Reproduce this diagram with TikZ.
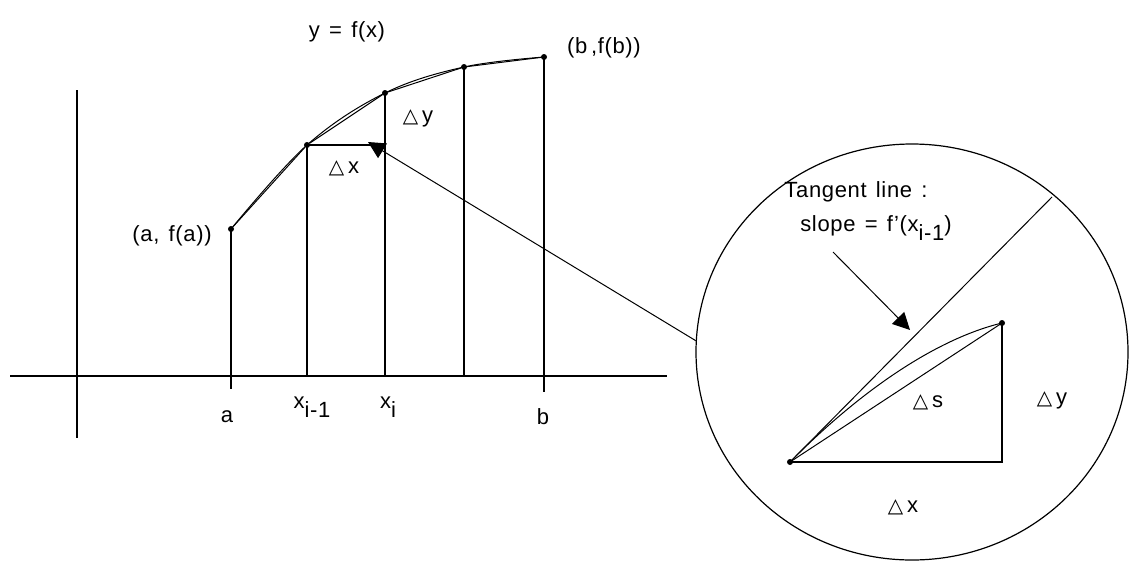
\documentclass[tikz,border=0pt]{standalone}
\usepackage{fontspec}
\setmainfont[LetterSpace=3]{Liberation Sans}
\newfontfamily\trifont{DejaVu Sans}
\usetikzlibrary{positioning,arrows.meta,shapes.geometric}
\newcommand{\tri}{{\trifont\fontsize{20}{20}\selectfont △}\,}
\newcommand{\lowsub}[1]{\raisebox{-0.4em}{#1}}
\newcommand{\lblfont}{\fontsize{22}{26}\selectfont\spaceskip=0.42em\relax}
\tikzset{
  dot/.style={circle,fill=black,inner sep=0pt,minimum size=6pt},
  lbl/.style={font=\lblfont,inner sep=1pt},
  axisline/.style={line width=1.7pt},
  thinline/.style={line width=1pt},
  bighead/.style={-{Triangle[width=17pt,length=17pt]}},
}

\begin{document}
\begin{tikzpicture}[x=1pt,y=-1pt]
        \useasboundingbox (0,0) rectangle (1129,563);
        % axes
        \coordinate (xl) at (10,376);
        \coordinate (xr) at (667,376);
        \coordinate (yt) at (77,90);
        \coordinate (yb) at (77,438);
        \draw[axisline] (xl) -- (xr);
        \draw[axisline] (yt) -- (yb);
        % points on the curve
        \node[dot] (p0) at (231,229) {};
        \node[dot] (p1) at (307,145) {};
        \node[dot] (p2) at (385,93) {};
        \node[dot] (p3) at (464,67) {};
        \node[dot] (p4) at (544,57) {};
        \draw[thinline] plot[smooth,tension=0.6] coordinates {(231,229) (307,145) (385,93) (464,67) (544,57)};
        \draw[thinline] (p0) -- (p1) -- (p2) -- (p3) -- (p4);
        % verticals
        \draw[axisline] (p0.center) -- (231,389);
        \draw[axisline] (p1.center) -- (307,376);
        \draw[axisline] (p2.center) -- (385,376);
        \draw[axisline] (p3.center) -- (464,376);
        \draw[axisline] (p4.center) -- (544,392);
        \draw[axisline] (p1.center) -- (385,145);
        % labels
        \node[lbl] (fx) at (347,32) {y = f(x)};
        \node[lbl] (fa) at (172,236) {(a, f(a))};
        \node[lbl] (fb) at (604,48) {(b\,,f(b))};
        \node[lbl] (la) at (227,417) {a};
        \node[lbl] (lb) at (543,417) {b};
        \node[lbl] (lxim) at (312,407) {x\lowsub{i-1}};
        \node[lbl] (lxi) at (388,407) {x\lowsub{i}};
        \node[lbl] (dx) at (344,168) {\tri x};
        \node[lbl] (dy) at (418,118) {\tri y};
        % magnified view
        \node[draw,ellipse,line width=1.2pt,minimum width=432pt,minimum height=416pt] (zoom) at (912,352) {};
        \coordinate (tip) at (368,142);
        \draw[thinline,bighead] (zoom.177) -- (tip);
        \node[dot] (q0) at (790,462) {};
        \node[dot] (q1) at (1002,323) {};
        \coordinate (qc) at (1002,462);
        \coordinate (tend) at (1052,197);
        \draw[thinline] (q0.center) -- (tend);
        \draw[axisline] (q0.center) -- (qc) -- (q1.center);
        \draw[thinline] (q0.center) -- (q1.center);
        \draw[thinline] (q0.center) .. controls (865,386) and (940,338) .. (q1.center);
        \node[lbl] (tl) at (856,192) {Tangent line :};
        \node[lbl] (sl) at (876,228) {slope = f’(x\lowsub{i-1})};
        \coordinate (tailT) at (833,252);
        \coordinate (tipT) at (910,330);
        \draw[thinline,bighead] (tailT) -- (tipT);
        \node[lbl] (ds) at (928,402) {\tri s};
        \node[lbl] (dyz) at (1052,400) {\tri y};
        \node[lbl] (dxz) at (903,507) {\tri x};
\end{tikzpicture}
\end{document}
